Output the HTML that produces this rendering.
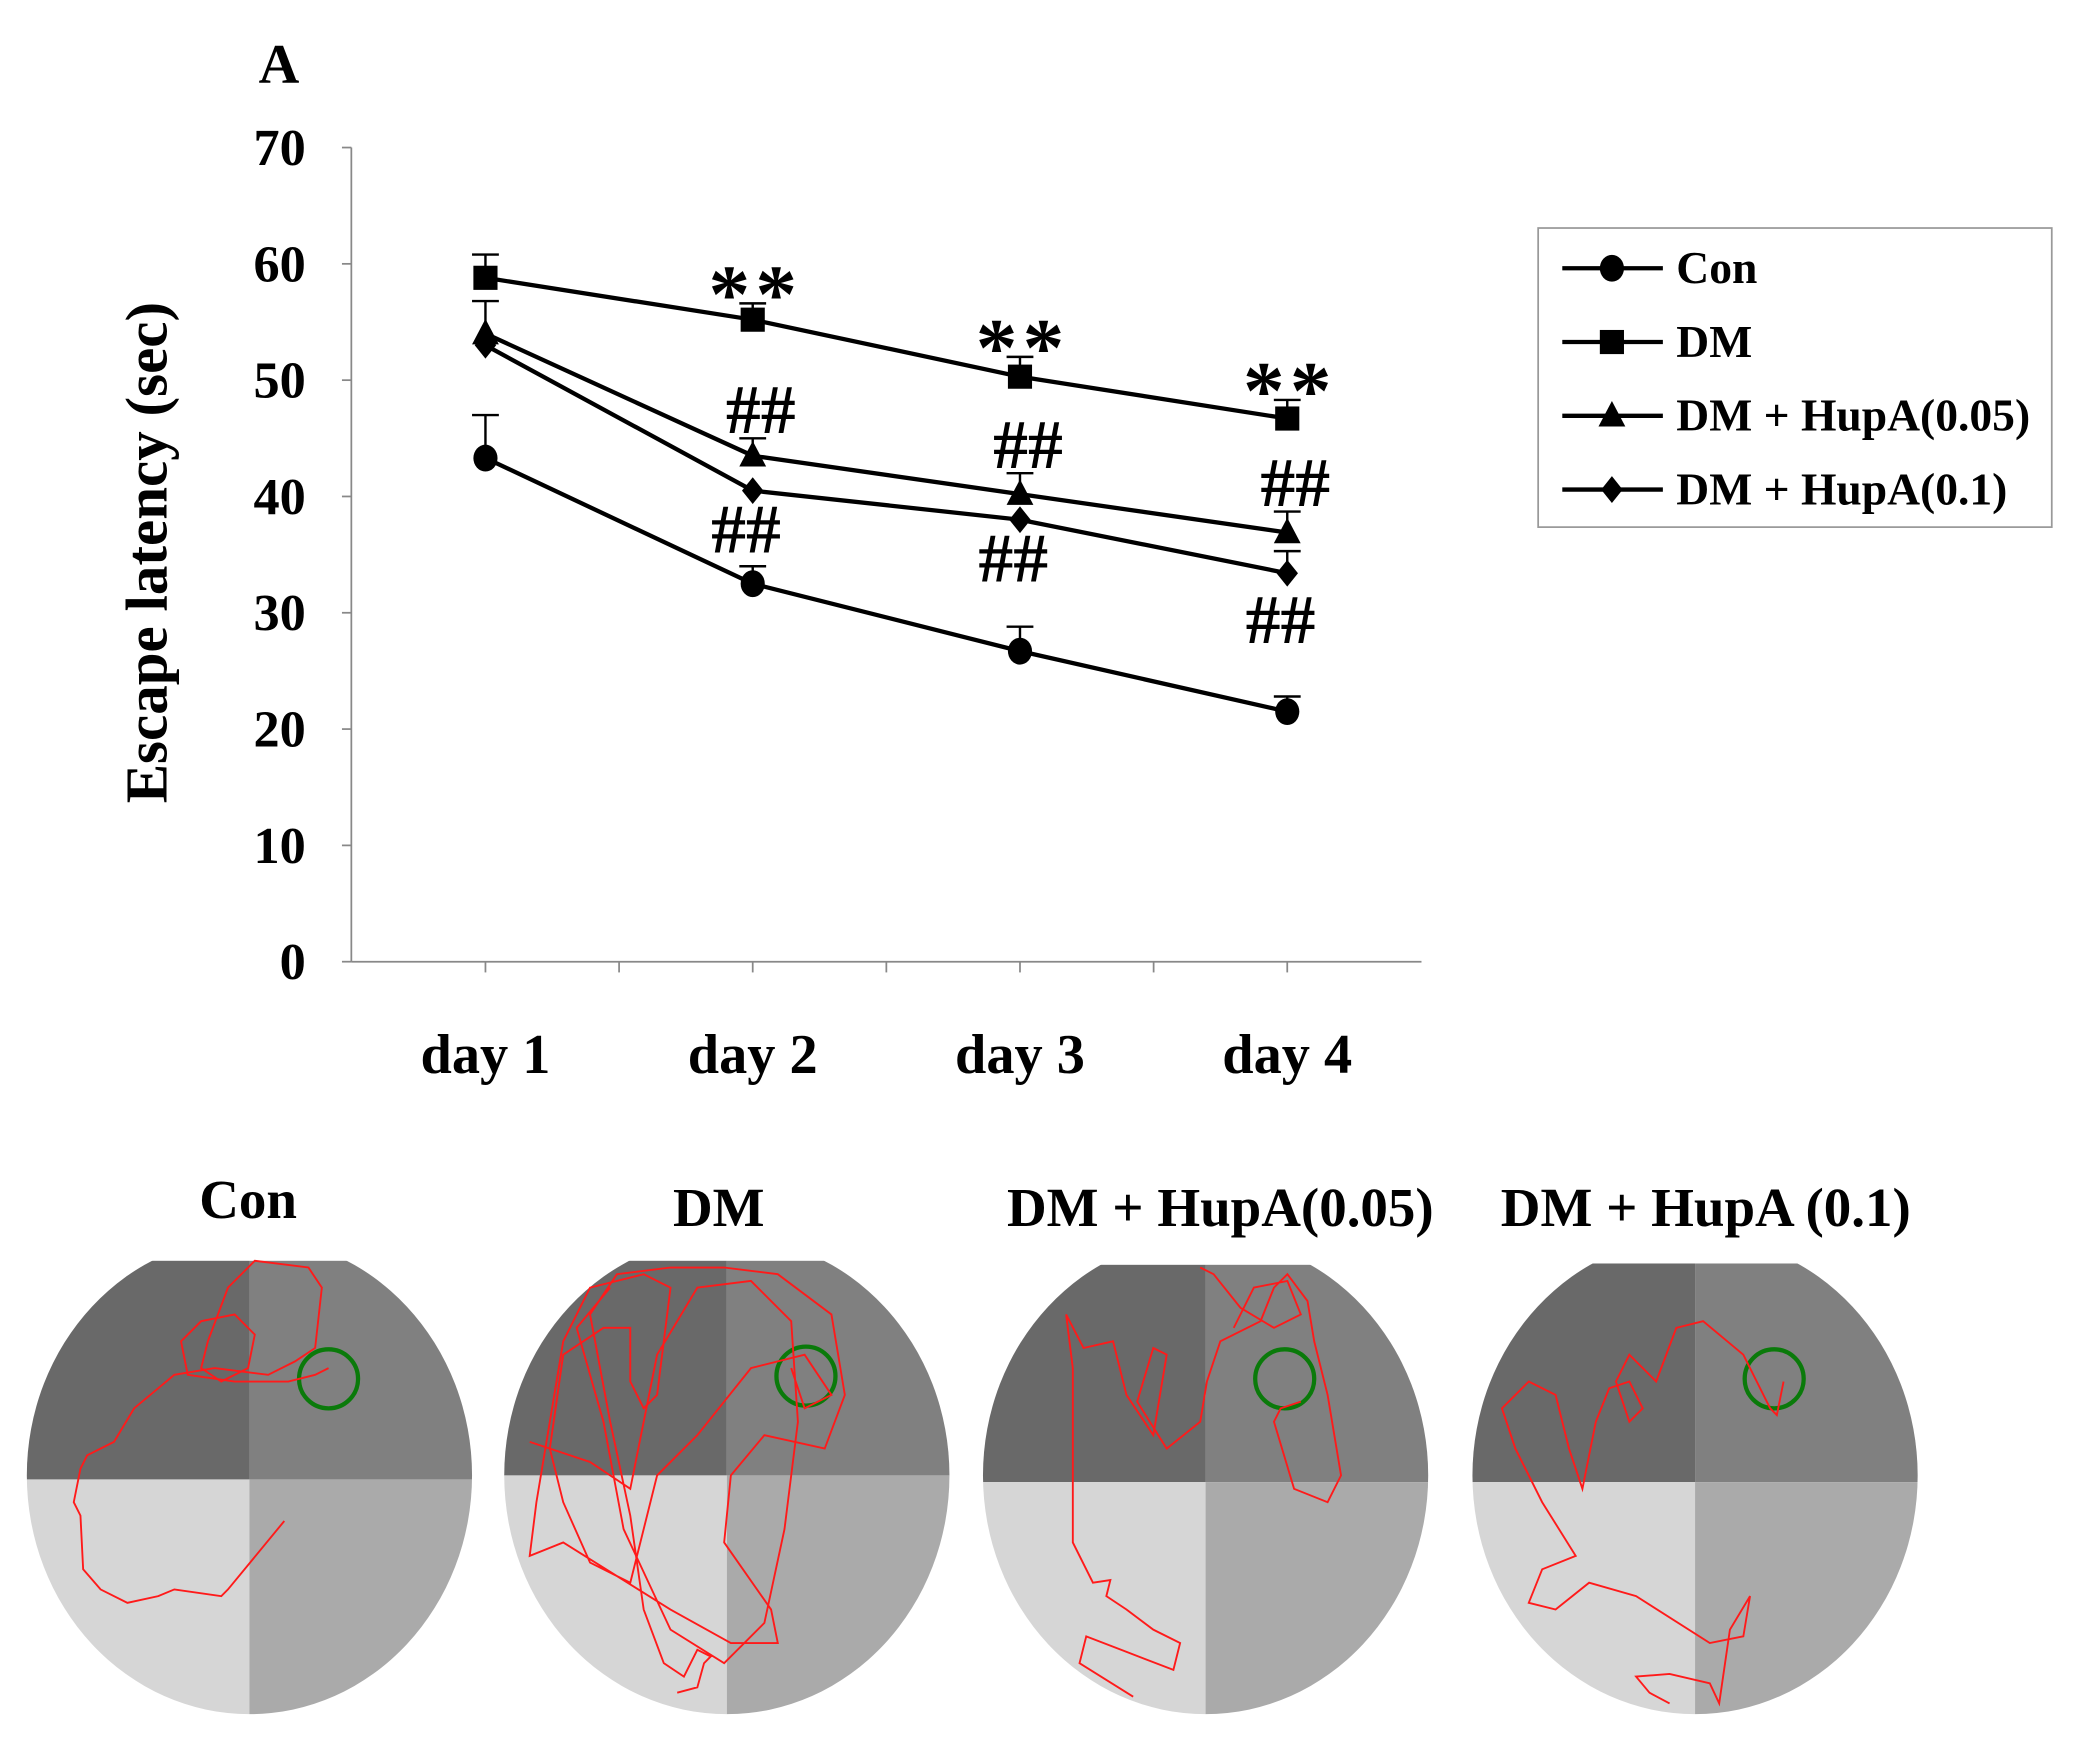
<!DOCTYPE html>
<html><head><meta charset="utf-8"><style>
html,body{margin:0;padding:0;background:#fff;}
svg{display:block;}
text{font-family:"Liberation Serif",serif;font-weight:bold;fill:#000;}
</style></head><body>
<svg id="fig" width="2092" height="1745" viewBox="0 0 1560 1301" preserveAspectRatio="none">
<text x="208" y="62" font-size="42" text-anchor="middle">A</text>
<g id="chart"></g>
<g id="legend">
<rect x="1147" y="170" width="383" height="223" fill="#fff" stroke="#999" stroke-width="1.3"/>
</g>
<g id="tracks"></g>
</svg>
<script>
const categories = ["day 1","day 2","day 3","day 4"];
const yTicks = [0,10,20,30,40,50,60,70];
const seriesNames = ["Con","DM","DM + HupA(0.05)","DM + HupA(0.1)"];
const conValues = [43.3,32.5,26.7,21.5];
const conErr = [3.7,1.5,2.1,1.3];
const dmValues = [58.8,55.2,50.3,46.7];
const dmErr = [2.0,1.4,1.7,1.6];
const hupa005Values = [54.0,43.5,40.2,36.9];
const hupa005Err = [2.8,1.5,1.8,1.8];
const hupa01Values = [53.0,40.5,38.0,33.4];
const hupa01Err = [0.0,0.0,0.0,1.9];
const starLabels = [null,"**","**","**"];
const NS="http://www.w3.org/2000/svg";
const chart=document.getElementById('chart');
const X0=262,X1=1060,Y0=717,Y70=110;
function yScale(v){return Y0-(v/70)*(Y0-Y70);}
function xScale(i){return 362+i*199.3;}
function mk(tag,attrs,parent){const e=document.createElementNS(NS,tag);for(const k in attrs)e.setAttribute(k,attrs[k]);(parent||chart).appendChild(e);return e;}
let ax=mk('line',{x1:X0,y1:Y70,x2:X0,y2:Y0,stroke:'#888','stroke-width':1.3});


let bx=mk('line',{x1:X0,y1:Y0,x2:X1,y2:Y0,stroke:'#888','stroke-width':1.3});


yTicks.forEach(v=>{
  const y=yScale(v);
  let t=mk('line',{x1:X0-7,y1:y,x2:X0,y2:y,stroke:'#888','stroke-width':1.3});
  
  
  let l=mk('text',{x:228,y:y+13,'font-size':39,'text-anchor':'end'});l.textContent=v;
  
  
});
for(let k=0;k<7;k++){
  const x=362+k*99.65;
  let t=mk('line',{x1:x,y1:Y0,x2:x,y2:Y0+8,stroke:'#888','stroke-width':1.3});
  
  
}
categories.forEach((c,i)=>{
  let l=mk('text',{x:xScale(i),y:800,'font-size':42,'text-anchor':'middle'});l.textContent=c;
  
  
});
let yt=mk('text',{x:0,y:0,'font-size':44,'text-anchor':'middle',transform:'translate(124,412) rotate(-90)'});
yt.textContent='Escape latency (sec)';


function marker(type,x,y,parent){
  let e;
  if(type==='circle')e=mk('ellipse',{cx:x,cy:y,rx:9,ry:10},parent);
  else if(type==='square')e=mk('rect',{x:x-9,y:y-9,width:18,height:18},parent);
  else if(type==='triangle')e=mk('polygon',{points:`${x},${y-11} ${x+10},${y+8} ${x-10},${y+8}`},parent);
  else e=mk('polygon',{points:`${x},${y-10} ${x+8},${y} ${x},${y+10} ${x-8},${y}`},parent);
  e.setAttribute('fill','#000');
  return e;
}
const allSeries=[[conValues,conErr,'circle','con'],[dmValues,dmErr,'square','dm'],[hupa005Values,hupa005Err,'triangle','hupa-005'],[hupa01Values,hupa01Err,'diamond','hupa-01']];
allSeries.forEach(([vals,errs,m,name])=>{
  const g=mk('g',{});
  
  
  vals.forEach((v,i)=>{
    if(errs[i]>0){
      const x=xScale(i),y=yScale(v),yt=yScale(v+errs[i]);
      let e=mk('path',{d:`M${x},${y} V${yt} M${x-10},${yt} H${x+10}`,stroke:'#000','stroke-width':1.8,fill:'none'},g);
      
      
    }
  });
  let p=mk('polyline',{points:vals.map((v,i)=>xScale(i)+','+yScale(v)).join(' '),fill:'none',stroke:'#000','stroke-width':3.2},g);
  
  
  vals.forEach((v,i)=>{
    let mm=marker(m,xScale(i),yScale(v),g);
    
    
  });
});
starLabels.forEach((s,i)=>{
  if(!s)return;
  let t=mk('text',{x:xScale(i)+2,y:yScale(dmValues[i]+dmErr[i])+14,'font-size':62,'text-anchor':'middle','font-weight':'normal','letter-spacing':'4'});
  t.textContent='**';
  
  
});
[1,2,3].forEach(i=>{
  let t=mk('text',{x:xScale(i)+6,y:yScale(hupa005Values[i]+hupa005Err[i])-4,'font-size':52,'text-anchor':'middle','font-weight':'normal'});
  t.textContent='##';
  
  
  let t2=mk('text',{x:xScale(i)-5,y:yScale(hupa01Values[i])+(i===3?52:46),'font-size':52,'text-anchor':'middle','font-weight':'normal'});
  t2.textContent='##';
  
  
});
const leg=document.getElementById('legend');
const legMarkers=['circle','square','triangle','diamond'];
seriesNames.forEach((n,i)=>{
  const y=200+i*55;
  const g=mk('g',{},leg);
  
  
  mk('line',{x1:1165,y1:y,x2:1240,y2:y,stroke:'#000','stroke-width':3.2},g);
  marker(legMarkers[i],1202,y,g);
  const t=mk('text',{x:1250,y:y+11,'font-size':34},g);t.textContent=n;
});
const tr=document.getElementById('tracks');
const panels=[
 {cx:186,top:940,div:1103,title:'Con',tx:185,ty:908,gx:245,gy:1028,
  path:'M212,1134 L170,1185 L165,1190 L130,1185 L118,1190 L95,1195 L75,1185 L62,1170 L60,1130 L55,1120 L60,1095 L65,1085 L85,1075 L100,1050 L112,1040 L130,1025 L160,1020 L200,1025 L220,1015 L235,1005 L240,960 L230,945 L190,940 L170,960 L155,1000 L150,1020 L165,1030 L185,1020 L190,995 L175,980 L150,985 L135,1000 L140,1025 L175,1030 L215,1030 L235,1025 L245,1020'},
 {cx:542,top:940,div:1100,title:'DM',tx:536,ty:914,gx:601,gy:1026,
  path:'M505,1262 L520,1258 L525,1240 L530,1235 L520,1230 L510,1250 L495,1240 L480,1200 L470,1130 L455,1060 L440,980 L460,950 L500,945 L540,945 L580,950 L620,980 L630,1040 L615,1080 L570,1070 L545,1100 L540,1150 L575,1200 L580,1225 L545,1225 L500,1200 L420,1150 L395,1160 L400,1120 L420,1000 L440,960 L480,950 L500,960 L490,1040 L480,1050 L470,1030 L470,990 L450,990 L420,1010 L410,1080 L420,1120 L440,1165 L470,1180 L490,1100 L520,1070 L560,1020 L600,1010 L620,1040 L600,1050 L590,1020 M395,1075 L440,1090 L470,1110 L490,1010 L520,960 L560,955 L590,985 L595,1060 L585,1140 L570,1210 L540,1240 L500,1215 L465,1140 L450,1060 L430,990 L455,960'},
 {cx:899,top:943,div:1105,title:'DM + HupA(0.05)',tx:910,ty:914,gx:958,gy:1028,
  path:'M845,1265 L805,1240 L810,1220 L875,1245 L880,1225 L860,1215 L840,1200 L825,1190 L828,1178 L815,1180 L800,1150 L800,1020 L795,980 L808,1005 L830,1000 L840,1040 L860,1070 L870,1010 L860,1005 L848,1045 L870,1080 L895,1060 L900,1030 L910,1000 L940,985 L950,960 L960,950 L975,970 L980,1000 L990,1040 L1000,1100 L990,1120 L965,1110 L950,1060 L955,1050 L970,1045 M920,990 L935,960 L960,955 L970,980 L950,990 L925,975 L905,950 L895,945'},
 {cx:1264,top:942,div:1105,title:'DM + HupA (0.1)',tx:1272,ty:914,gx:1323,gy:1028,
  path:'M1245,1270 L1230,1262 L1220,1250 L1245,1248 L1275,1255 L1282,1270 L1290,1215 L1305,1190 L1300,1220 L1275,1225 L1220,1190 L1185,1180 L1160,1200 L1140,1195 L1150,1170 L1175,1160 L1150,1120 L1130,1080 L1120,1050 L1140,1030 L1160,1040 L1170,1080 L1180,1110 L1190,1060 L1200,1035 L1215,1030 L1225,1050 L1215,1060 L1205,1030 L1215,1010 L1235,1030 L1250,990 L1270,985 L1300,1010 L1320,1050 L1325,1055 L1330,1030'}
];
panels.forEach((p,k)=>{
  const g=mk('g',{},tr);
  
  
  const cid='clip'+k;
  const cp=mk('clipPath',{id:cid},g);
  mk('ellipse',{cx:p.cx,cy:1100,rx:166,ry:178},cp);
  const ig=mk('g',{'clip-path':`url(#${cid})`},g);
  mk('rect',{x:p.cx-170,y:p.top,width:170,height:p.div-p.top,fill:'#696969'},ig);
  mk('rect',{x:p.cx,y:p.top,width:170,height:p.div-p.top,fill:'#808080'},ig);
  mk('rect',{x:p.cx-170,y:p.div,width:170,height:200,fill:'#d6d6d6'},ig);
  mk('rect',{x:p.cx,y:p.div,width:170,height:200,fill:'#aaaaaa'},ig);
  const plat=mk('circle',{cx:p.gx,cy:p.gy,r:22,fill:'none',stroke:'#0a7a0a','stroke-width':3.2},g);
  
  
  const path=mk('path',{d:p.path,fill:'none',stroke:'#ff1a1a','stroke-width':1.4},g);
  
  
  const t=mk('text',{x:p.tx,y:p.ty,'font-size':41,'text-anchor':'middle'},g);
  t.textContent=p.title;
  
  
});
</script>
</body></html>
